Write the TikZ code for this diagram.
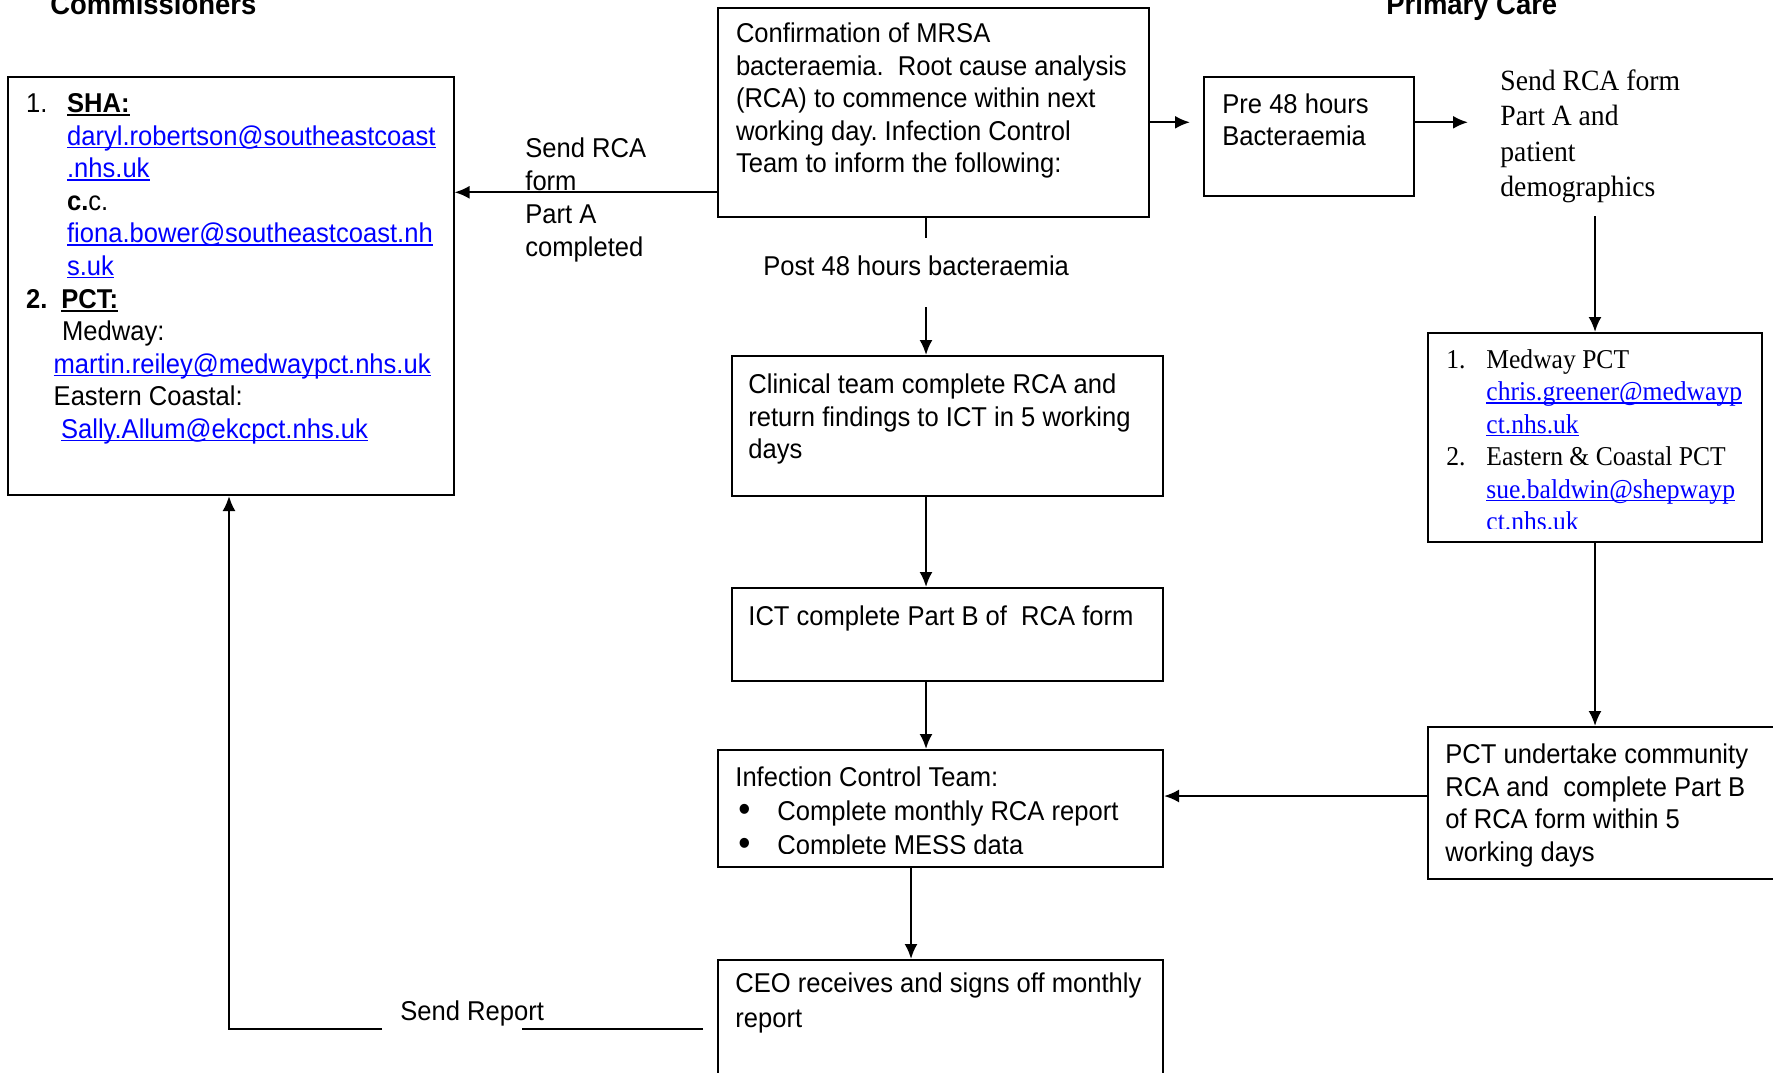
\documentclass[tikz,border=0pt]{standalone}
\usepackage{fontspec}
\setmainfont{Liberation Sans}[FakeStretch=0.94]
\newfontfamily\tnr{Liberation Serif}[FakeStretch=0.94]
\usetikzlibrary{arrows.meta}
\definecolor{linkblue}{RGB}{0,0,255}
\newcommand\arf{\fontsize{13.6}{16.3}\selectfont}
\newcommand\tmf{\tnr\fontsize{13.6}{16.2}\selectfont}
\newcommand\hdf{\bfseries\fontsize{14.6}{17}\selectfont}
\newcommand\fs{\rule{0pt}{11pt}}
\newcommand\lnk[1]{{\color{linkblue}\setbox0=\hbox{#1}\rlap{\rule[-1.5pt]{\wd0}{0.7pt}}\box0}}
\newcommand\ulb[1]{{\bfseries\setbox0=\hbox{#1}\rlap{\rule[-1.9pt]{\wd0}{1.1pt}}\box0}}
\newcommand\bul{\raisebox{-0.6pt}{\scalebox{1.35}{\textbullet}}}
\frenchspacing
\tikzset{
  box/.style={draw, line width=1pt, inner sep=0pt, anchor=north west},
  txt/.style={anchor=north west, inner sep=0pt, align=left, font=\arf},
  arr/.style={line width=1.1pt, -{Latex[length=7.5pt,width=6.5pt]}},
  ln/.style={line width=1.1pt}
}
\begin{document}
\begin{tikzpicture}[x=0.5pt,y=-0.5pt]
\useasboundingbox (0,0) rectangle (1773,1072);
\clip (0,0) rectangle (1773,1072);
\fill[white] (0,0) rectangle (1773,1072);

% headings
\node[anchor=base west, inner sep=0pt, font=\hdf] (h1) at (50,14.5) {Commissioners};
\node[anchor=base west, inner sep=0pt, font=\hdf] (h2) at (1386,14.5) {Primary Care};

% boxes
\node[box, minimum width=222.75pt, minimum height=209pt] (comm) at (7,76) {};
\node[box, minimum width=215.5pt, minimum height=104.5pt] (conf) at (717,7) {};
\node[box, minimum width=105pt, minimum height=59.5pt] (pre) at (1203,76) {};
\node[box, minimum width=167pt, minimum height=104.5pt] (prim) at (1427,332) {};
\node[box, minimum width=215.5pt, minimum height=70pt] (clin) at (731,355) {};
\node[box, minimum width=215.5pt, minimum height=46.5pt] (ict) at (731,587) {};
\node[box, minimum width=222.5pt, minimum height=58.5pt] (inf) at (717,749) {};
\node[box, minimum width=190pt, minimum height=76pt] (pct) at (1427,726) {};
\node[box, minimum width=222.5pt, minimum height=65pt] (ceo) at (717,959) {};

% commissioners text
\node[txt] (commtxt) at (25.7,90) {\fs\makebox[20.5pt][l]{1.}\ulb{SHA:}\\
\hspace*{20.5pt}\lnk{daryl.robertson@southeastcoast}\\
\hspace*{20.5pt}\lnk{.nhs.uk}\\
\hspace*{20.5pt}\textbf{c.}c.\\
\hspace*{20.5pt}\lnk{fiona.bower@southeastcoast.nh}\\
\hspace*{20.5pt}\lnk{s.uk}\\
\makebox[17.6pt][l]{\textbf{2.}}\ulb{PCT:}\\
\hspace*{18pt}Medway:\\
\hspace*{13.8pt}\lnk{martin.reiley@medwaypct.nhs.uk}\\
\hspace*{13.8pt}Eastern Coastal:\\
\hspace*{17.5pt}\lnk{Sally.Allum@ekcpct.nhs.uk}};

% confirmation text
\node[txt] (conftxt) at (735.6,20) {\fs Confirmation of MRSA\\
bacteraemia.\ \ Root cause analysis\\
(RCA) to commence within next\\
working day. Infection Control\\
Team to inform the following:};

% send RCA label (left)
\node[txt, font=\fontsize{13.6}{16.45}\selectfont] (sendA) at (525,135.3) {\fs Send RCA\\ form\\ Part A\\ completed};

% post 48
\node[anchor=base west, inner sep=0pt, font=\arf] (post) at (763,275) {Post 48 hours bacteraemia};

% pre 48
\node[txt, font=\fontsize{13.6}{16}\selectfont] (pretxt) at (1222,91) {\fs Pre 48 hours\\ Bacteraemia};

% send RCA label (right, serif)
\node[txt, font=\tnr\fontsize{14.7}{17.65}\selectfont] (sendB) at (1500,68) {\fs Send RCA form\\ Part A and\\ patient\\ demographics};

% primary care PCT list
\begin{scope}
\clip (1427,332) rectangle (1761,528);
\node[txt, font=\tmf] (primtxt) at (1446,346) {\fs\makebox[20pt][l]{1.}Medway PCT\\
\hspace*{20pt}\lnk{chris.greener@medwayp}\\
\hspace*{20pt}\lnk{ct.nhs.uk}\\
\makebox[20pt][l]{2.}Eastern \& Coastal PCT\\
\hspace*{20pt}\lnk{sue.baldwin@shepwayp}\\
\hspace*{20pt}\lnk{ct.nhs.uk}};
\end{scope}

% clinical
\node[txt] (clintxt) at (748,371) {\fs Clinical team complete RCA and\\
return findings to ICT in 5 working\\
days};

% ICT
\node[anchor=base west, inner sep=0pt, font=\arf] (icttxt) at (748,625) {ICT complete Part B of\ \ RCA form};

% infection control
\begin{scope}
\clip (717,749) rectangle (1162,853);
\node[txt, font=\fontsize{13.6}{17}\selectfont] (inftxt) at (735,764) {\fs Infection Control Team:\\
\hspace*{1.5pt}\makebox[19.5pt][l]{\bul}Complete monthly RCA report\\
\hspace*{1.5pt}\makebox[19.5pt][l]{\bul}Complete MESS data};
\end{scope}

% PCT undertake
\node[txt] (pcttxt) at (1445,741) {\fs PCT undertake community\\
RCA and\ \ complete Part B\\
of RCA form within 5\\
working days};

% CEO
\node[txt, font=\fontsize{13.6}{17.5}\selectfont] (ceotxt) at (735,970) {\fs CEO receives and signs off monthly\\ report};

% send report
\node[anchor=base west, inner sep=0pt, font=\arf] (sendR) at (400,1020) {Send Report};

% connector coordinates
\coordinate (cx) at (926,0);
\coordinate (c2) at (911,0);
\coordinate (p1) at (926,238);
\coordinate (p2) at (926,307);
\coordinate (ya) at (0,192.3);
\coordinate (yb) at (0,122.3);
\coordinate (yc) at (0,796);
\coordinate (r1) at (703,1029);
\coordinate (r2) at (522,1029);
\coordinate (r3) at (382,1029);
\coordinate (r4) at (229,1029);

% connectors
\draw[arr] (conf.west |- ya) -- (comm.east |- ya);
\draw[arr, shorten >=6.5pt] (conf.east |- yb) -- (pre.west |- yb);
\draw[arr, shorten >=16pt] (pre.east |- yb) -- (sendB.west |- yb);
\draw[arr, shorten <=6.5pt] (sendB.south -| prim.north) -- (prim.north);
\draw[arr] (prim.south) -- (pct.north -| prim.south);
\draw[arr] (pct.west |- yc) -- (inf.east |- yc);
\draw[ln] (conf.south -| p1) -- (p1);
\draw[arr] (p2) -- (clin.north -| p2);
\draw[arr] (clin.south -| cx) -- (ict.north -| cx);
\draw[arr] (ict.south -| cx) -- (inf.north -| cx);
\draw[arr] (inf.south -| c2) -- (ceo.north -| c2);
\draw[ln] (r1) -- (r2);
\draw[arr] (r3) -- (r4) -- (comm.south -| r4);
\end{tikzpicture}
\end{document}
